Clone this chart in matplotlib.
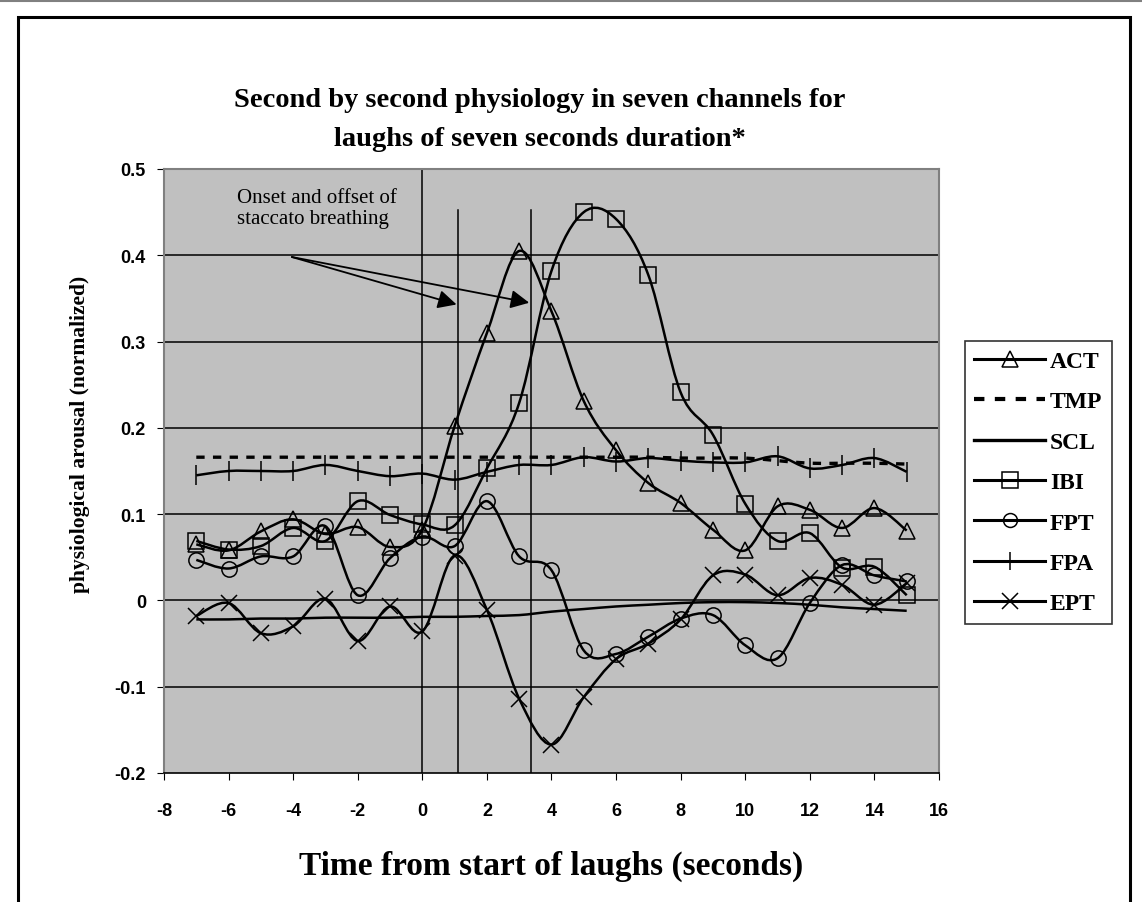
import matplotlib.pyplot as plt
import numpy as np
from matplotlib.path import Path
from matplotlib.patches import PathPatch, Rectangle
from matplotlib.lines import Line2D

plt.rcParams['axes.unicode_minus'] = False

# seconds from start of laugh
t = list(range(-7, 16))

act = [0.065, 0.058, 0.080, 0.094, 0.077, 0.085, 0.062, 0.082, 0.202, 0.310, 0.405,
       0.335, 0.231, 0.174, 0.136, 0.113, 0.082, 0.058, 0.109, 0.105, 0.084, 0.107, 0.081]
tmp = [0.166, 0.166, 0.166, 0.166, 0.166, 0.166, 0.166, 0.166, 0.166, 0.166, 0.166,
       0.166, 0.166, 0.166, 0.166, 0.165, 0.165, 0.165, 0.162, 0.159, 0.159, 0.159, 0.158]
scl = [-0.022, -0.022, -0.021, -0.021, -0.020, -0.020, -0.020, -0.019, -0.019, -0.018, -0.017,
       -0.013, -0.010, -0.007, -0.005, -0.003, -0.002, -0.002, -0.003, -0.005, -0.008, -0.010, -0.012]
ibi = [0.069, 0.059, 0.063, 0.084, 0.069, 0.115, 0.099, 0.088, 0.087, 0.153, 0.229,
       0.382, 0.450, 0.442, 0.377, 0.241, 0.192, 0.112, 0.069, 0.078, 0.038, 0.039, 0.006]
fpt = [0.047, 0.037, 0.051, 0.051, 0.086, 0.006, 0.049, 0.074, 0.063, 0.115, 0.051,
       0.035, -0.058, -0.062, -0.042, -0.021, -0.017, -0.052, -0.067, -0.003, 0.041, 0.029, 0.022]
fpa = [0.145, 0.150, 0.150, 0.150, 0.157, 0.150, 0.144, 0.147, 0.140, 0.149, 0.157,
       0.157, 0.166, 0.161, 0.165, 0.162, 0.160, 0.160, 0.167, 0.153, 0.157, 0.165, 0.149]
ept = [-0.018, -0.003, -0.038, -0.030, 0.002, -0.047, -0.007, -0.036, 0.052, -0.011, -0.114,
       -0.167, -0.112, -0.068, -0.050, -0.022, 0.029, 0.030, 0.006, 0.026, 0.018, -0.005, 0.020]

onset_offset = [1.1, 3.35]

serif = ['Liberation Serif', 'DejaVu Serif']
narrow = ['Liberation Sans Narrow', 'Liberation Sans', 'DejaVu Sans']


def smooth_path(x, y):
    # Excel style smoothed line: cubic bezier through every point
    pts = np.column_stack([x, y]).astype(float)
    ext = np.vstack([pts[0], pts, pts[-1]])
    verts = [pts[0]]
    codes = [Path.MOVETO]
    for i in range(len(pts) - 1):
        p0, p1, p2, p3 = ext[i], ext[i + 1], ext[i + 2], ext[i + 3]
        verts += [p1 + (p2 - p0) / 6.0, p2 - (p3 - p1) / 6.0, p2]
        codes += [Path.CURVE4] * 3
    return Path(verts, codes)


fig = plt.figure(figsize=(11.42, 9.03), dpi=100)
ax = fig.add_axes([164 / 1142, 1 - 774 / 903, 775 / 1142, 604 / 903])
ax.set_facecolor('#c0c0c0')
ax.set_xlim(-8, 16)
ax.set_ylim(-0.2, 0.5)
ax.set_xticks(range(-8, 17, 2))
ax.set_yticks([-0.2, -0.1, 0, 0.1, 0.2, 0.3, 0.4, 0.5])
ax.set_yticklabels(['-0.2', '-0.1', '0', '0.1', '0.2', '0.3', '0.4', '0.5'])
for yv in [-0.1, 0, 0.1, 0.2, 0.3, 0.4]:
    ax.axhline(yv, color='black', lw=1.1, zorder=1)
for lab in ax.get_xticklabels() + ax.get_yticklabels():
    lab.set_family(narrow)
    lab.set_fontweight('bold')
    lab.set_fontsize(13)
ax.tick_params(axis='y', length=5, color='black', direction='out', pad=8)
ax.tick_params(axis='x', length=5, color='black', direction='out', pad=16)
for side in ['top', 'right', 'left']:
    ax.spines[side].set_color('#808080')
    ax.spines[side].set_linewidth(1.5)
ax.spines['bottom'].set_color('black')
ax.spines['bottom'].set_linewidth(1.2)

# vertical reference lines
ax.axvline(0, color='black', lw=1.1, zorder=1)
for xv in onset_offset:
    ax.plot([xv, xv], [-0.2, 0.453], color='black', lw=1.1, zorder=1)

series = [
    ('ACT', act, dict(marker='^', markersize=12)),
    ('TMP', tmp, None),
    ('SCL', scl, None),
    ('IBI', ibi, dict(marker='s', markersize=12)),
    ('FPT', fpt, dict(marker='o', markersize=11)),
    ('FPA', fpa, dict(marker='|', markersize=14)),
    ('EPT', ept, dict(marker='x', markersize=12)),
]

handles = []
for name, vals, mk in series:
    ls = (0, (2.5, 2.5)) if name == 'TMP' else '-'
    lw = 2.4 if name == 'TMP' else 1.8
    patch = PathPatch(smooth_path(t, vals), fill=False, edgecolor='black',
                      lw=lw, linestyle=ls, zorder=3)
    ax.add_patch(patch)
    if mk is not None:
        ax.plot(t, vals, linestyle='none', color='black', markerfacecolor='none',
                markeredgewidth=1.1, zorder=4, **mk)
        handles.append(Line2D([], [], color='black', lw=2.2, markerfacecolor='none',
                              markeredgewidth=1.1, marker=mk['marker'],
                              markersize=mk['markersize'] - 1, label=name))
    else:
        handles.append(Line2D([], [], color='black', lw=lw + 0.6, linestyle=ls, label=name))

# annotation
ax.text(-0.8, 0.478, 'Onset and offset of\nstaccato breathing', family=serif,
        fontsize=15, va='top', ha='right', multialignment='left',
        linespacing=1.15, zorder=5)
for tip in [(1.06, 0.343), (3.31, 0.345)]:
    ax.annotate('', xy=tip, xytext=(-4.04, 0.398),
                arrowprops=dict(arrowstyle='-|>', color='black', lw=1.3,
                                mutation_scale=28, shrinkA=0, shrinkB=0), zorder=5)

ax.set_ylabel('physiological arousal (normalized)', family=serif, fontweight='bold',
              fontsize=15.5)
ax.yaxis.set_label_coords(-0.095, 0.563)
ax.set_xlabel('Time from start of laughs (seconds)', family=serif, fontweight='bold',
              fontsize=24)
ax.xaxis.set_label_coords(0.5, -(851 - 774) / 604)

fig.text(540 / 1142, 1 - 120 / 903,
         'Second by second physiology in seven channels for\nlaughs of seven seconds duration*',
         family=serif, fontweight='bold', fontsize=20.5, ha='center', va='center',
         linespacing=1.7)

leg = fig.legend(handles=handles, loc='upper left',
                 bbox_to_anchor=(965 / 1142, 1 - 342 / 903),
                 prop=dict(family=serif, weight='bold', size=17),
                 frameon=True, fancybox=False, edgecolor='black',
                 handlelength=3.0, handletextpad=0.2, labelspacing=0.8,
                 borderpad=0.4, borderaxespad=0)
leg.get_frame().set_linewidth(1.2)

# outer frame
fig.patches.append(Rectangle((18 / 1142, -0.05), (1130 - 18) / 1142, 0.05 + 1 - 18 / 903,
                             transform=fig.transFigure, fill=False,
                             edgecolor='black', lw=2.2))
fig.lines.append(Line2D([0, 1], [1 - 2 / 903, 1 - 2 / 903], transform=fig.transFigure,
                        color='#808080', lw=1.5))

fig.savefig('out.png', dpi=100)
